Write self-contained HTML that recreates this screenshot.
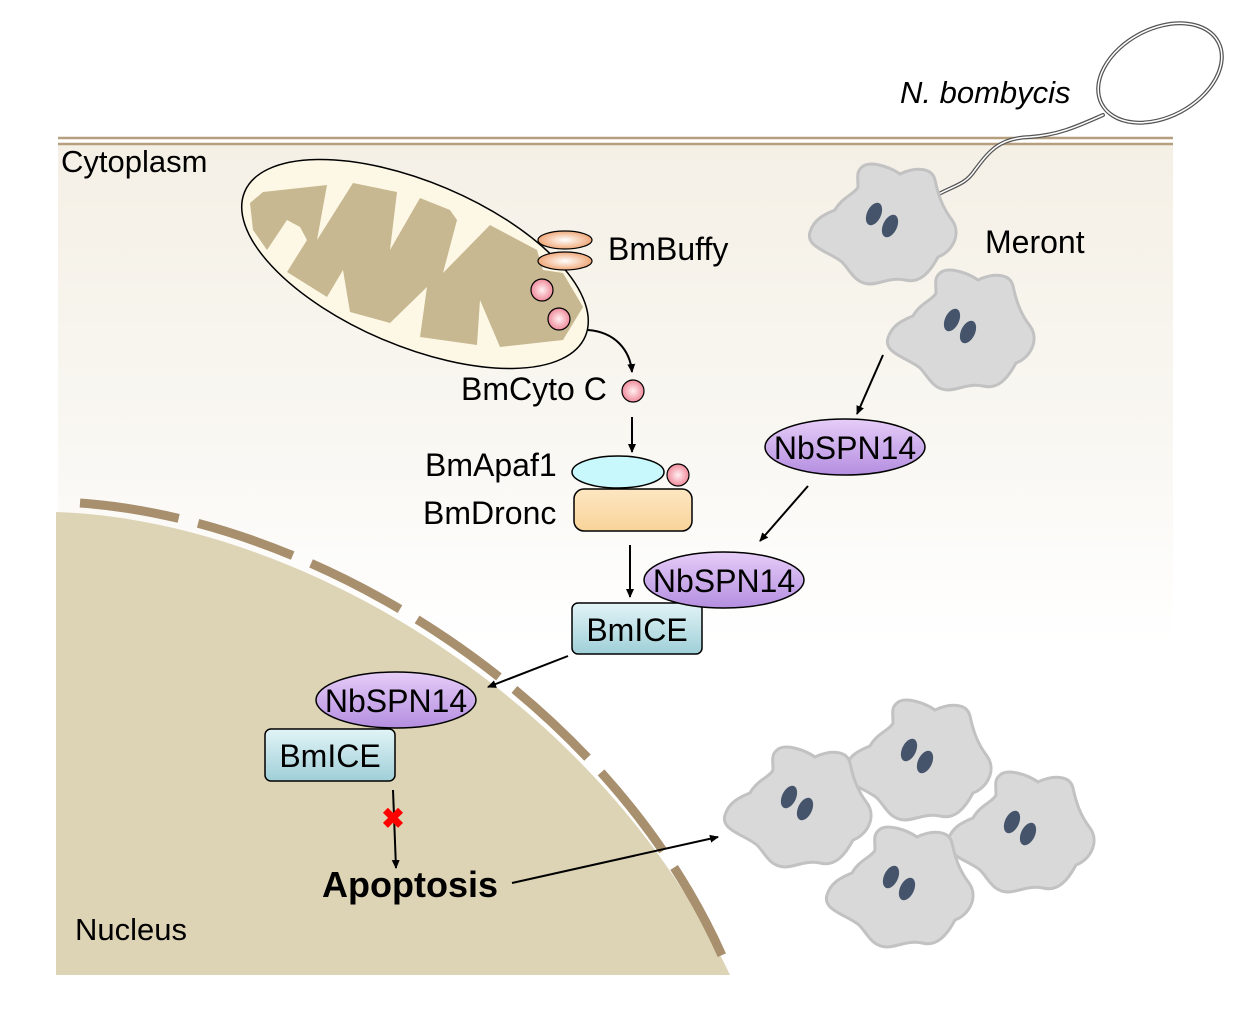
<!DOCTYPE html>
<html><head><meta charset="utf-8"><style>
html,body{margin:0;padding:0;background:#fff}
svg{display:block}
text{font-family:"Liberation Sans",sans-serif;fill:#000}
</style></head><body>
<svg width="1254" height="1015" viewBox="0 0 1254 1015" xmlns="http://www.w3.org/2000/svg">
<defs>
<linearGradient id="cyto" x1="0" y1="0" x2="0" y2="1">
<stop offset="0" stop-color="#f5f0e6"/><stop offset="0.35" stop-color="#f9f7f2"/><stop offset="0.6" stop-color="#ffffff"/><stop offset="1" stop-color="#ffffff"/>
</linearGradient>
<linearGradient id="purp" x1="0" y1="0" x2="0" y2="1">
<stop offset="0" stop-color="#e6cdf8"/><stop offset="1" stop-color="#b48ee0"/>
</linearGradient>
<linearGradient id="blue" x1="0" y1="0" x2="0" y2="1">
<stop offset="0" stop-color="#e2f4f7"/><stop offset="1" stop-color="#9fcfd8"/>
</linearGradient>
<linearGradient id="dron" x1="0" y1="0" x2="0" y2="1">
<stop offset="0" stop-color="#fde6c2"/><stop offset="1" stop-color="#f9d49a"/>
</linearGradient>
<radialGradient id="pink"><stop offset="0" stop-color="#fff0f2"/><stop offset="1" stop-color="#f08a9a"/></radialGradient>
<radialGradient id="buf"><stop offset="0" stop-color="#ffffff"/><stop offset="1" stop-color="#f0a878"/></radialGradient>
<marker id="ah" markerWidth="10" markerHeight="10" refX="8" refY="5" orient="auto" markerUnits="userSpaceOnUse">
<path d="M0,1 L9,5 L0,9 Z" fill="#000"/></marker>
<g id="mer">
<path d="M-18,-55 C-10,-62 10,-55 20,-48 C35,-55 52,-55 55,-42 C58,-28 62,-15 72,-2 C82,12 72,30 58,35 C50,50 40,62 25,58 C10,55 0,62 -10,62 C-25,62 -30,48 -38,40 C-50,30 -75,25 -70,10 C-66,-3 -55,-8 -45,-12 C-38,-25 -25,-28 -22,-35 C-22,-45 -24,-50 -18,-55 Z" fill="#d9d9d9" stroke="#c2c2c2" stroke-width="3"/>
<ellipse cx="-6" cy="-8" rx="7" ry="12" transform="rotate(25 -6 -8)" fill="#46546b"/>
<ellipse cx="10" cy="4" rx="7" ry="12" transform="rotate(25 10 4)" fill="#46546b"/>
</g>
</defs>
<rect x="58" y="145" width="1115" height="830" fill="url(#cyto)"/>
<line x1="58" y1="138" x2="1173" y2="138" stroke="#b59f7e" stroke-width="2.5"/>
<line x1="58" y1="144" x2="1173" y2="144" stroke="#b59f7e" stroke-width="2.5"/>
<!-- nucleus -->
<path d="M56,975 L56,512 C300,520 600,700 730,975 Z" fill="#ddd3b5"/>
<path d="M80,503 C320,520 610,700 724,960" fill="none" stroke="#a88f6d" stroke-width="9" stroke-dasharray="100,20"/>
<!-- flagellum -->
<g fill="none" stroke-linecap="round">
<ellipse cx="1160" cy="73" rx="66" ry="44" transform="rotate(-28 1160 73)" stroke="#555" stroke-width="4"/>
<ellipse cx="1160" cy="73" rx="66" ry="44" transform="rotate(-28 1160 73)" stroke="#fff" stroke-width="1.5"/>
<path d="M1103,115 C1080,125 1060,135 1030,137 C1000,138 990,150 975,170 C965,185 955,185 937,195" stroke="#555" stroke-width="4"/>
<path d="M1103,115 C1080,125 1060,135 1030,137 C1000,138 990,150 975,170 C965,185 955,185 937,195" stroke="#fff" stroke-width="1.5"/>
</g>
<!-- meronts -->
<use href="#mer" x="880" y="222"/>
<use href="#mer" x="958" y="328"/>
<use href="#mer" x="915" y="758"/>
<use href="#mer" x="795" y="805"/>
<use href="#mer" x="1018" y="830"/>
<use href="#mer" x="897" y="885"/>
<!-- mitochondrion -->
<ellipse cx="415" cy="264" rx="185" ry="82" transform="rotate(23 415 264)" fill="#fdf8e6" stroke="#000" stroke-width="1.5"/>
<polygon points="250,203 263,192 327,185 317,240 353,183 397,192 390,250 420,198 450,210 457,220 443,273 490,225 537,250 543,270 563,273 583,307 563,340 500,347 480,300 477,345 420,337 427,287 390,323 350,312 343,270 327,297 287,272 307,240 300,227 287,220 267,250 253,230" fill="#c8b891"/>
<ellipse cx="565" cy="240" rx="27" ry="9" fill="url(#buf)" stroke="#000" stroke-width="1.2"/>
<ellipse cx="565" cy="261" rx="27" ry="9" fill="url(#buf)" stroke="#000" stroke-width="1.2"/>
<circle cx="542" cy="290" r="11" fill="url(#pink)" stroke="#000" stroke-width="1.2"/>
<circle cx="559" cy="319" r="11" fill="url(#pink)" stroke="#000" stroke-width="1.2"/>
<circle cx="633" cy="391" r="11" fill="url(#pink)" stroke="#000" stroke-width="1.2"/>
<!-- apaf/dronc -->
<rect x="574" y="489" width="118" height="42" rx="10" fill="url(#dron)" stroke="#000" stroke-width="1.5"/>
<ellipse cx="618" cy="472" rx="46" ry="16" fill="#c9f8fc" stroke="#000" stroke-width="1.5"/>
<circle cx="678" cy="475" r="11" fill="url(#pink)" stroke="#000" stroke-width="1.2"/>
<!-- arrows -->
<g stroke="#000" stroke-width="2" fill="none" marker-end="url(#ah)">
<path d="M588,330 C615,332 630,350 632,372"/>
<line x1="632" y1="417" x2="632" y2="452"/>
<line x1="630" y1="545" x2="630" y2="597"/>
<line x1="883" y1="355" x2="857" y2="414"/>
<line x1="808" y1="486" x2="760" y2="541"/>
<line x1="568" y1="656" x2="488" y2="687"/>
<line x1="393" y1="790" x2="396" y2="868"/>
<line x1="512" y1="883" x2="718" y2="837"/>
</g>
<text x="393" y="828" text-anchor="middle" font-size="28" font-weight="bold" style="fill:#f00">✖</text>
<!-- NbSPN14 / BmICE -->
<rect x="572" y="603" width="130" height="51" rx="6" fill="url(#blue)" stroke="#000" stroke-width="1.5"/>
<text x="637" y="641" text-anchor="middle" font-size="32">BmICE</text>
<ellipse cx="845" cy="447" rx="80" ry="28" fill="url(#purp)" stroke="#000" stroke-width="1.5"/>
<text x="845" y="459" text-anchor="middle" font-size="32">NbSPN14</text>
<ellipse cx="724" cy="580" rx="80" ry="28" fill="url(#purp)" stroke="#000" stroke-width="1.5"/>
<text x="724" y="592" text-anchor="middle" font-size="32">NbSPN14</text>
<rect x="265" y="729" width="130" height="52" rx="6" fill="url(#blue)" stroke="#000" stroke-width="1.5"/>
<text x="330" y="767" text-anchor="middle" font-size="32">BmICE</text>
<ellipse cx="396" cy="700" rx="80" ry="28" fill="url(#purp)" stroke="#000" stroke-width="1.5"/>
<text x="396" y="712" text-anchor="middle" font-size="32">NbSPN14</text>
<!-- labels -->
<text x="61" y="172" font-size="31">Cytoplasm</text>
<text x="900" y="103" font-size="31" font-style="italic">N. bombycis</text>
<text x="985" y="253" font-size="32">Meront</text>
<text x="608" y="260" font-size="32">BmBuffy</text>
<text x="461" y="400" font-size="32">BmCyto C</text>
<text x="425" y="476" font-size="32">BmApaf1</text>
<text x="423" y="524" font-size="32">BmDronc</text>
<text x="322" y="897" font-size="36" font-weight="bold">Apoptosis</text>
<text x="75" y="940" font-size="31">Nucleus</text>
</svg>
</body></html>
